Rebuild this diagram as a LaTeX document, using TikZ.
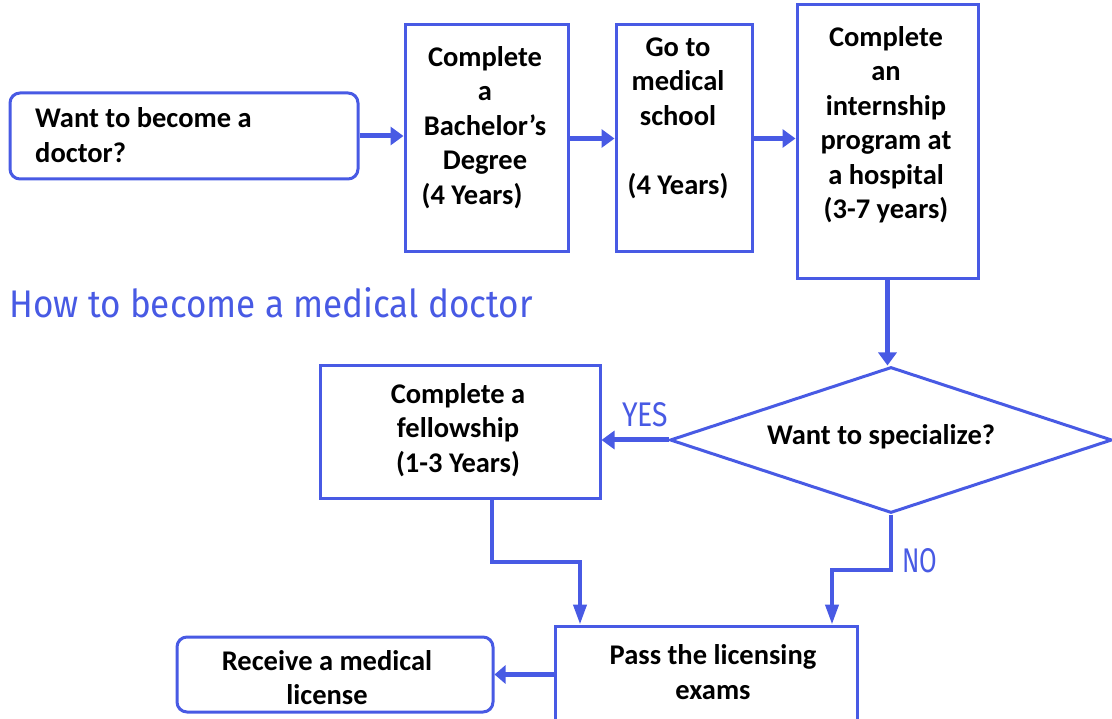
\documentclass[tikz,border=0pt]{standalone}
\usepackage{fontspec}
\usepackage{graphicx}
\setmainfont{Carlito}
\newfontfamily\firaf{Fira Sans}
\usetikzlibrary{arrows.meta,shapes.geometric,calc}
\definecolor{fblue}{RGB}{72,90,228}
\begin{document}
\begin{tikzpicture}[x=1pt,y=-1pt,
  box/.style={draw=fblue,line width=3pt,fill=white,inner sep=0pt},
  txt/.style={font=\bfseries\fontsize{28.5}{34.5}\selectfont,align=center,inner sep=0pt},
  lbl/.style={text=fblue,inner sep=0pt},
  arr/.style={draw=fblue,line width=5pt,-{Triangle[length=13pt,width=18pt]}},
  arrv/.style={draw=fblue,line width=4pt,-{Triangle[length=20pt,width=13pt]}},
  arrs/.style={draw=fblue,line width=5pt,-{Triangle[length=11pt,width=18pt]}}]
\useasboundingbox (0,0) rectangle (1112,719);
% boxes
\node[box,rounded corners=10pt,minimum width=348pt,minimum height=86pt] (want) at (184,136) {};
\node[box,minimum width=163pt,minimum height=227pt] (bach) at (486.5,138.5) {};
\node[box,minimum width=136pt,minimum height=227pt] (med) at (684,138.5) {};
\node[box,minimum width=181pt,minimum height=274pt] (intern) at (887.5,142) {};
\node[box,minimum width=280pt,minimum height=132pt] (fel) at (460,432) {};
\node[box,minimum width=302pt,minimum height=104pt] (lic) at (706,678) {};
\node[box,rounded corners=10pt,minimum width=316pt,minimum height=75pt] (recv) at (335,674.5) {};
\node[box,diamond,aspect=3,minimum width=442pt,minimum height=146pt] (dia) at (891,440) {};
% texts
\node[txt,align=left,anchor=west] (wantt) at (35,135) {Want to become a\\doctor?};
\node[txt] (bacht) at (485,127.5) {Complete\\a\\Bachelor’s\\Degree\\(4 Years)\hspace*{26pt}};
\node[txt] (medt) at (678,118) {Go to\\medical\\school\\[34.5pt](4 Years)};
\node[txt] (internt) at (886,124.5) {Complete\\an\\internship\\program at\\a hospital\\(3-7 years)};
\node[txt] (felt) at (458,430) {Complete a\\fellowship\\(1-3 Years)};
\node[txt] (lict) at (713,672) {Pass the licensing\\exams};
\node[txt] (recvt) at (327,677.5) {Receive a medical\\license};
\node[txt] (diat) at (881,437) {Want to specialize?};
% labels
\node[lbl] (title) at (271,303) {\resizebox{523pt}{30pt}{\firaf How to become a medical doctor}};
\node[lbl] (yes) at (645,415) {\resizebox{46pt}{24pt}{\firaf YES}};
\node[lbl] (no) at (920,561) {\resizebox{35pt}{24pt}{\firaf NO}};
% arrows
\draw[arr] (want.east) -- (want.east -| bach.west);
\draw[arr] (bach.east) -- (med.west);
\draw[arr] (med.east) -- (med.east -| intern.west);
\draw[arr] (intern.south) -- (intern.south |- dia.north);
\draw[arr] (dia.west) -- (dia.west -| fel.east);
\draw[arrv] ([xshift=32pt]fel.south) -- ++(0,62) -| ([xshift=-126pt]lic.north);
\draw[arrv] (dia.south) -- ++(0,55) -| ([xshift=126pt]lic.north);
\draw[arrs] (recv.east -| lic.west) -- (recv.east);
\end{tikzpicture}
\end{document}
